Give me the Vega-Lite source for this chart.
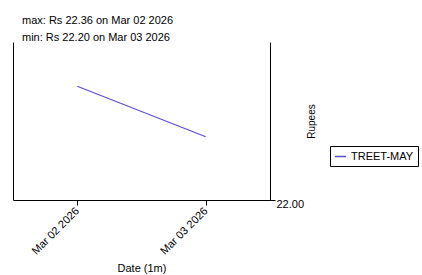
{
  "$schema": "https://vega.github.io/schema/vega-lite/v6.json",
  "autosize": "none",
  "width": 257,
  "height": 158,
  "padding": {"left": 13, "top": 42, "right": 152, "bottom": 75},
  "background": "white",
  "config": {
    "font": "Liberation Sans",
    "view": {"stroke": null},
    "axis": {"domainColor": "black", "tickColor": "black", "labelColor": "black", "titleColor": "black", "grid": false, "labelFont": "Liberation Sans", "titleFont": "Liberation Sans", "labelFontSize": 11, "titleFontSize": 11, "titleFontWeight": "normal"}
  },
  "title": {
    "text": "max: Rs 22.36 on Mar 02 2026",
    "subtitle": "min: Rs 22.20 on Mar 03 2026",
    "anchor": "start",
    "frame": "group",
    "dx": 9,
    "offset": -1,
    "font": "Liberation Sans",
    "fontSize": 11,
    "fontWeight": "normal",
    "color": "black",
    "subtitleFont": "Liberation Sans",
    "subtitleFontSize": 11,
    "subtitleColor": "black",
    "subtitlePadding": 6
  },
  "data": {
    "values": [
      {"date": "Mar 02 2026", "price": 22.36, "symbol": "TREET-MAY"},
      {"date": "Mar 03 2026", "price": 22.20, "symbol": "TREET-MAY"}
    ]
  },
  "encoding": {
    "x": {
      "field": "date", "type": "ordinal",
      "scale": {"type": "point", "padding": 0.5},
      "axis": {"title": "Date (1m)", "labelAngle": -45, "labelAlign": "right", "labelBaseline": "middle", "tickSize": 5, "labelPadding": 4, "titlePadding": 6, "labelFontSize": 11}
    }
  },
  "layer": [
    {
      "mark": {"type": "line", "color": "#5b4fd6", "strokeWidth": 1.2},
      "encoding": {
        "y": {
          "field": "price", "type": "quantitative",
          "scale": {"domain": [22.0, 22.5], "zero": false, "nice": false},
          "axis": {"orient": "right", "values": [22.0], "format": ".2f", "tickSize": 5, "labelPadding": 1, "labelOffset": 4, "title": "Rupees", "titleAngle": 270, "titleX": 46, "titleY": 79, "titleFontSize": 10}
        },
        "color": {
          "field": "symbol", "type": "nominal",
          "scale": {"range": ["#5b4fd6"]},
          "legend": {"title": null, "orient": "none", "legendX": 317, "legendY": 104, "symbolType": "stroke", "symbolSize": 120, "symbolStrokeWidth": 1.5, "strokeColor": "black", "padding": 4, "labelFontSize": 11, "labelColor": "black", "labelFont": "Liberation Sans", "cornerRadius": 0}
        }
      }
    },
    {
      "mark": {"type": "point", "opacity": 0},
      "encoding": {
        "y": {
          "field": "price", "type": "quantitative",
          "axis": {"orient": "left", "labels": false, "ticks": false, "title": null}
        }
      }
    }
  ],
  "resolve": {"axis": {"y": "independent"}}
}
